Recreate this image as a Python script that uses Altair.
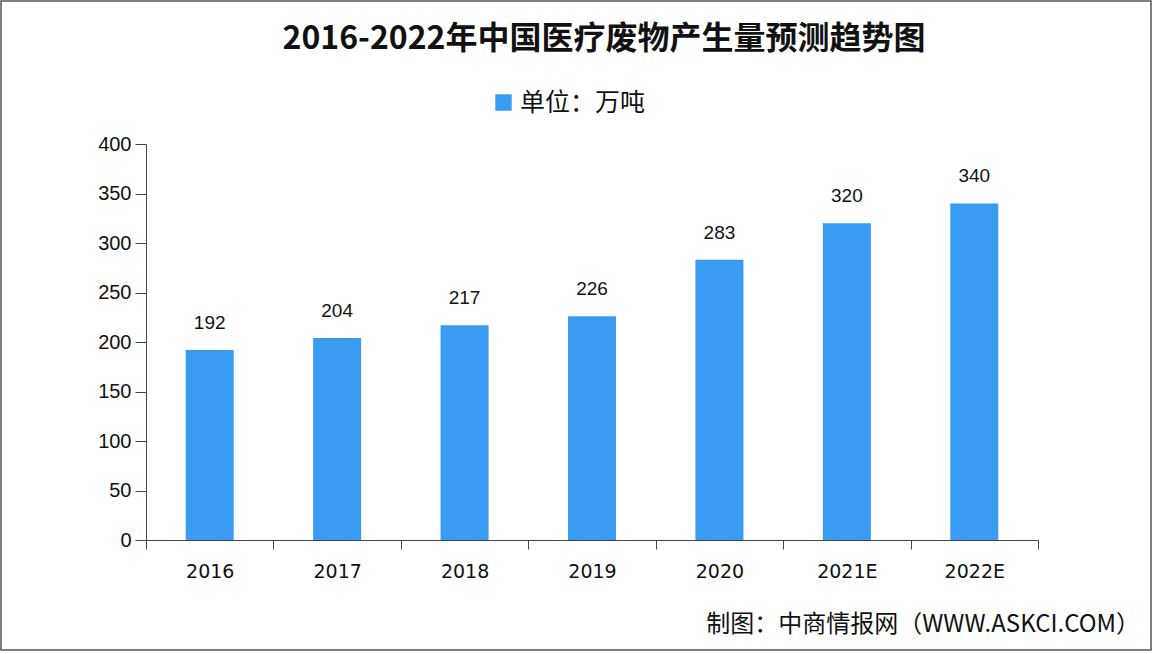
import altair as alt
import pandas as pd

years = ["2016", "2017", "2018", "2019", "2020", "2021E", "2022E"]
values = [192, 204, 217, 226, 283, 320, 340]
series_name = ["单位：万吨"]
title_text = "2016-2022年中国医疗废物产生量预测趋势图"
source_text = "制图：中商情报网（WWW.ASKCI.COM）"

df = pd.DataFrame({"year": years, "value": values, "series": series_name * len(years)})

FONT = "Noto Sans CJK SC"
BLUE = "#3A9BF2"

x_enc = alt.X("year:N", sort=years, title=None,
              scale=alt.Scale(paddingInner=0, paddingOuter=0),
              axis=alt.Axis(labelAngle=0, labelFontSize=19, labelColor="#111",
                            labelFont="DejaVu Sans", labelPadding=13,
                            tickBand="extent", tickSize=9, tickColor="#444",
                            domainColor="#444", labelFontWeight="normal"))
y_enc = alt.Y("value:Q", title=None,
              scale=alt.Scale(domain=[0, 400], nice=False),
              axis=alt.Axis(values=list(range(0, 401, 50)), grid=False,
                            labelFontSize=20, labelColor="#111", labelFont="Liberation Sans",
                            tickSize=11, tickColor="#444", domainColor="#444", labelPadding=4))

bars = alt.Chart(df).mark_bar(size=48).encode(
    x=x_enc, y=y_enc,
    color=alt.Color("series:N", scale=alt.Scale(range=[BLUE]),
                    legend=alt.Legend(title=None, orient="none", legendX=345, legendY=-54,
                                      symbolType="square", symbolSize=270, symbolStrokeWidth=0,
                                      labelFontSize=25, labelFont=FONT, labelColor="#111",
                                      symbolOpacity=1))
)

labels = alt.Chart(df).mark_text(baseline="bottom", dy=-17, fontSize=19,
                                 font="Liberation Sans", color="#111").encode(
    x=alt.X("year:N", sort=years), y="value:Q", text="value:Q")

title = alt.Chart(pd.DataFrame({"t": [title_text]})).mark_text(
    align="center", baseline="middle", fontSize=32, font=FONT, fontWeight="bold",
    color="#111").encode(x=alt.value(458), y=alt.value(-105), text="t:N")

src = alt.Chart(pd.DataFrame({"t": [source_text]})).mark_text(
    align="right", baseline="middle", fontSize=24, font=FONT, color="#111").encode(
    x=alt.value(994), y=alt.value(481), text="t:N")

frame = alt.Chart(pd.DataFrame({"a": [0]})).mark_rect(
    fill="transparent", stroke="#555", strokeWidth=1.5).encode(
    x=alt.value(-145), x2=alt.value(1005), y=alt.value(-143), y2=alt.value(506))

chart = alt.layer(bars, labels, title, src, frame).properties(
    width=892, height=396,
    background="white",
    autosize=alt.AutoSizeParams(type="none"),
    padding={"left": 146, "top": 144, "right": 132, "bottom": 114},
).configure_view(stroke=None)

chart.save("out.html", embed_options={"renderer": "svg", "actions": False})
